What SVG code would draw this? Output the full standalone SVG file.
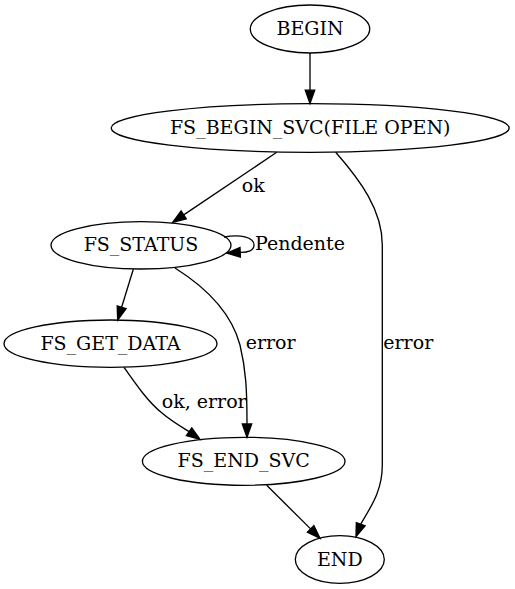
<svg xmlns="http://www.w3.org/2000/svg" width="515" height="589" viewBox="0 0 515 589" font-family="'DejaVu Serif', serif" font-size="19">
<style>
.n ellipse{fill:none;stroke:#000;stroke-width:1.33}
.n text{text-anchor:middle}
.e path{fill:none;stroke:#000;stroke-width:1.33}
.e polygon{fill:#000;stroke:#000;stroke-width:1.33}
</style>
<rect width="515" height="589" fill="#fff"/>
<g id="connectors" class="e">
<path d="M310,53 L310,90.2"/>
<polygon points="305.3,90.2 310,103.5 314.7,90.2"/>
<path d="M276.7,152.3 L183.7,214.9"/>
<polygon points="186.3,218.8 172.7,222.3 181.1,211"/>
<text x="241.7" y="191.7">ok</text>
<path d="M335.7,152.3 C360,180 382.3,210 382.3,245 L382.3,465 C382.3,490 372,505 360.7,524.2"/>
<polygon points="365.1,525.8 356,536.7 356.3,522.6"/>
<text x="383.3" y="349">error</text>
<path d="M224,237 C240,234 254,237 254,245 C254,250.5 248,252.5 240.2,252.3"/>
<polygon points="240.4,257 227,253.2 240,247.6"/>
<text x="255" y="250">Pendente</text>
<path d="M133.3,269.3 L121.6,307.3"/>
<polygon points="126.1,308.7 117.7,320 117.2,305.9"/>
<path d="M175,268 C210,290 232,315 240,345 C246,370 247,390 247,424"/>
<polygon points="242.3,424 247,437.3 251.7,424"/>
<text x="245.7" y="349">error</text>
<path d="M124,367.3 C135,383 148,402 162,413 C170,420 180,426 189.1,431.7"/>
<polygon points="186.4,435.5 200,439.3 191.8,427.8"/>
<text x="161.7" y="407.5">ok, error</text>
<path d="M266.7,485.3 L310.6,528.9"/>
<polygon points="307.3,532.2 320,538.3 313.9,525.6"/>
</g>
<g id="BEGIN" class="n"><ellipse cx="310" cy="29" rx="59.7" ry="24"/><text x="310" y="35">BEGIN</text></g>
<g id="FS_BEGIN_SVC" class="n"><ellipse cx="310.2" cy="128" rx="199" ry="24.3"/><text x="310.2" y="134">FS_BEGIN_SVC(FILE OPEN)</text></g>
<g id="FS_STATUS" class="n"><ellipse cx="141" cy="245.3" rx="90" ry="23.7"/><text x="141" y="251.3">FS_STATUS</text></g>
<g id="FS_GET_DATA" class="n"><ellipse cx="110.5" cy="343.7" rx="106.5" ry="23.7"/><text x="110.5" y="349.7">FS_GET_DATA</text></g>
<g id="FS_END_SVC" class="n"><ellipse cx="243.7" cy="461.3" rx="101.3" ry="24"/><text x="243.7" y="467.3">FS_END_SVC</text></g>
<g id="END" class="n"><ellipse cx="339.8" cy="559.5" rx="44.5" ry="23.8"/><text x="339.8" y="565.5">END</text></g>
</svg>
